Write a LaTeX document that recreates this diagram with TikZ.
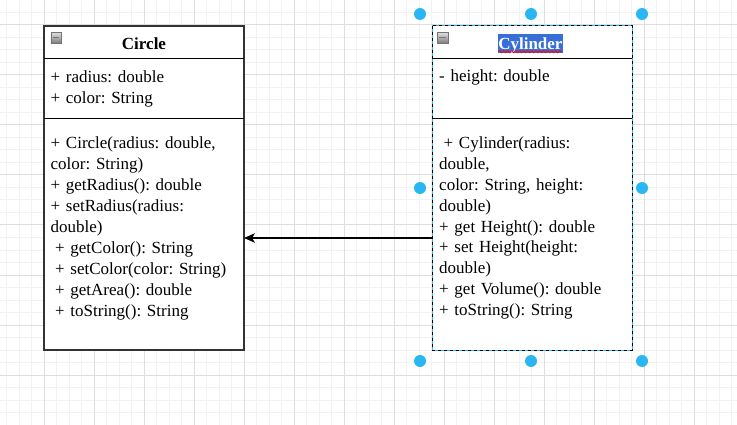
\documentclass[tikz,border=0pt]{standalone}
\usepackage{fontspec}
\setmainfont{Liberation Serif}
\newfontfamily\tnr{Liberation Serif}
\usetikzlibrary{arrows.meta,decorations.pathmorphing}
\definecolor{selblue}{HTML}{29B6F2}
\definecolor{hlblue}{RGB}{56,110,215}
\definecolor{minorgrid}{HTML}{F2F2F2}
\definecolor{majorgrid}{HTML}{DEDEDE}
\frenchspacing
\begin{document}
\begin{tikzpicture}[x=1pt,y=-1pt,
  umlbox/.style={draw=black!80, line width=1.2pt, minimum width=200pt, minimum height=324pt, inner sep=0pt, outer sep=0pt, fill=white},
  txt/.style={font=\tnr\fontsize{17}{20.9}\selectfont, anchor=base west, inner sep=0pt, text width=190pt, align=left},
  ttl/.style={font=\tnr\fontsize{17}{20.9}\selectfont\bfseries, anchor=base, inner sep=0pt},
  sep/.style={line width=1pt, black},
  icon/.style={minimum size=10.5pt, inner sep=0pt, draw=black!55, shading=axis, top color=black!12, bottom color=black!50,
    path picture={\draw[line width=1.6pt] ([xshift=2pt]path picture bounding box.west) -- ([xshift=-2pt]path picture bounding box.east);}},
  handle/.style={circle, fill=selblue, minimum size=12pt, inner sep=0pt},
  arr/.style={line width=1.1pt, -{Stealth[length=11pt,width=9.5pt,inset=3pt]}}
]
\useasboundingbox (0,0) rectangle (737,425);
\fill[white] (0,0) rectangle (737,425);
% grid
\foreach \x in {6.5,19,...,737} \draw[minorgrid, line width=1pt] (\x,0) -- (\x,425);
\foreach \y in {0,12.5,...,425} \draw[minorgrid, line width=1pt] (0,\y) -- (737,\y);
\foreach \x in {44,94,...,737} \draw[majorgrid, line width=1pt] (\x,0) -- (\x,425);
\foreach \y in {25,75,...,425} \draw[majorgrid, line width=1pt] (0,\y) -- (737,\y);

% Circle class
\node[umlbox] (circ) at (144,188) {};
\draw[sep] (44,58.5) -- (244,58.5);
\draw[sep] (44,118.5) -- (244,118.5);
\node[icon] (circicon) at (56,37.5) {};
\node[ttl] (circt) at (144,50) {Circle};
\node[txt] (circa) at (50.5,83) {+ radius: double\\+ color: String};
\node[txt] (circm) at (50.5,149) {+ Circle(radius: double,\\color: String)\\+ getRadius(): double\\+ setRadius(radius:\\double)\\\hspace*{4.5pt}+ getColor(): String\\\hspace*{4.5pt}+ setColor(color: String)\\\hspace*{4.5pt}+ getArea(): double\\\hspace*{4.5pt}+ toString(): String};

% Cylinder class (selected)
\node[umlbox, draw=selblue, line width=1pt] (cyl) at (532,188) {};
\draw[black, line width=1pt, dash pattern=on 3pt off 3pt] (cyl.north west) rectangle (cyl.south east);
\draw[sep] (432,58.5) -- (632,58.5);
\draw[sep] (432,118.5) -- (632,118.5);
\node[icon] (cylicon) at (442.5,37.5) {};
\node[ttl, fill=hlblue, text=white, text height=15.2pt, text depth=3.6pt, inner xsep=0.6pt] (cylt) at (530.4,49.5) {Cylinder};
\draw[red, line width=0.8pt, decorate, decoration={snake, amplitude=1.1pt, segment length=4pt}] ([xshift=1pt,yshift=1.6pt]cylt.south west) -- ([xshift=-1pt,yshift=1.6pt]cylt.south east);
\node[txt] (cyla) at (439,82) {- height: double};
\node[txt] (cylm) at (439,148.5) {\hspace*{4.5pt}+ Cylinder(radius:\\double,\\color: String, height:\\double)\\+ get Height(): double\\+ set Height(height:\\double)\\+ get Volume(): double\\+ toString(): String};

% inheritance connector
\draw[arr] ([yshift=-50pt]cyl.west) -- ([yshift=-50pt]circ.east);

% selection handles
\node[handle] (h1) at (420,14) {};
\node[handle] (h2) at (531,14) {};
\node[handle] (h3) at (642,14) {};
\node[handle] (h4) at (420,188) {};
\node[handle] (h5) at (642,188) {};
\node[handle] (h6) at (420,361) {};
\node[handle] (h7) at (531,361) {};
\node[handle] (h8) at (642,361) {};
\end{tikzpicture}
\end{document}
